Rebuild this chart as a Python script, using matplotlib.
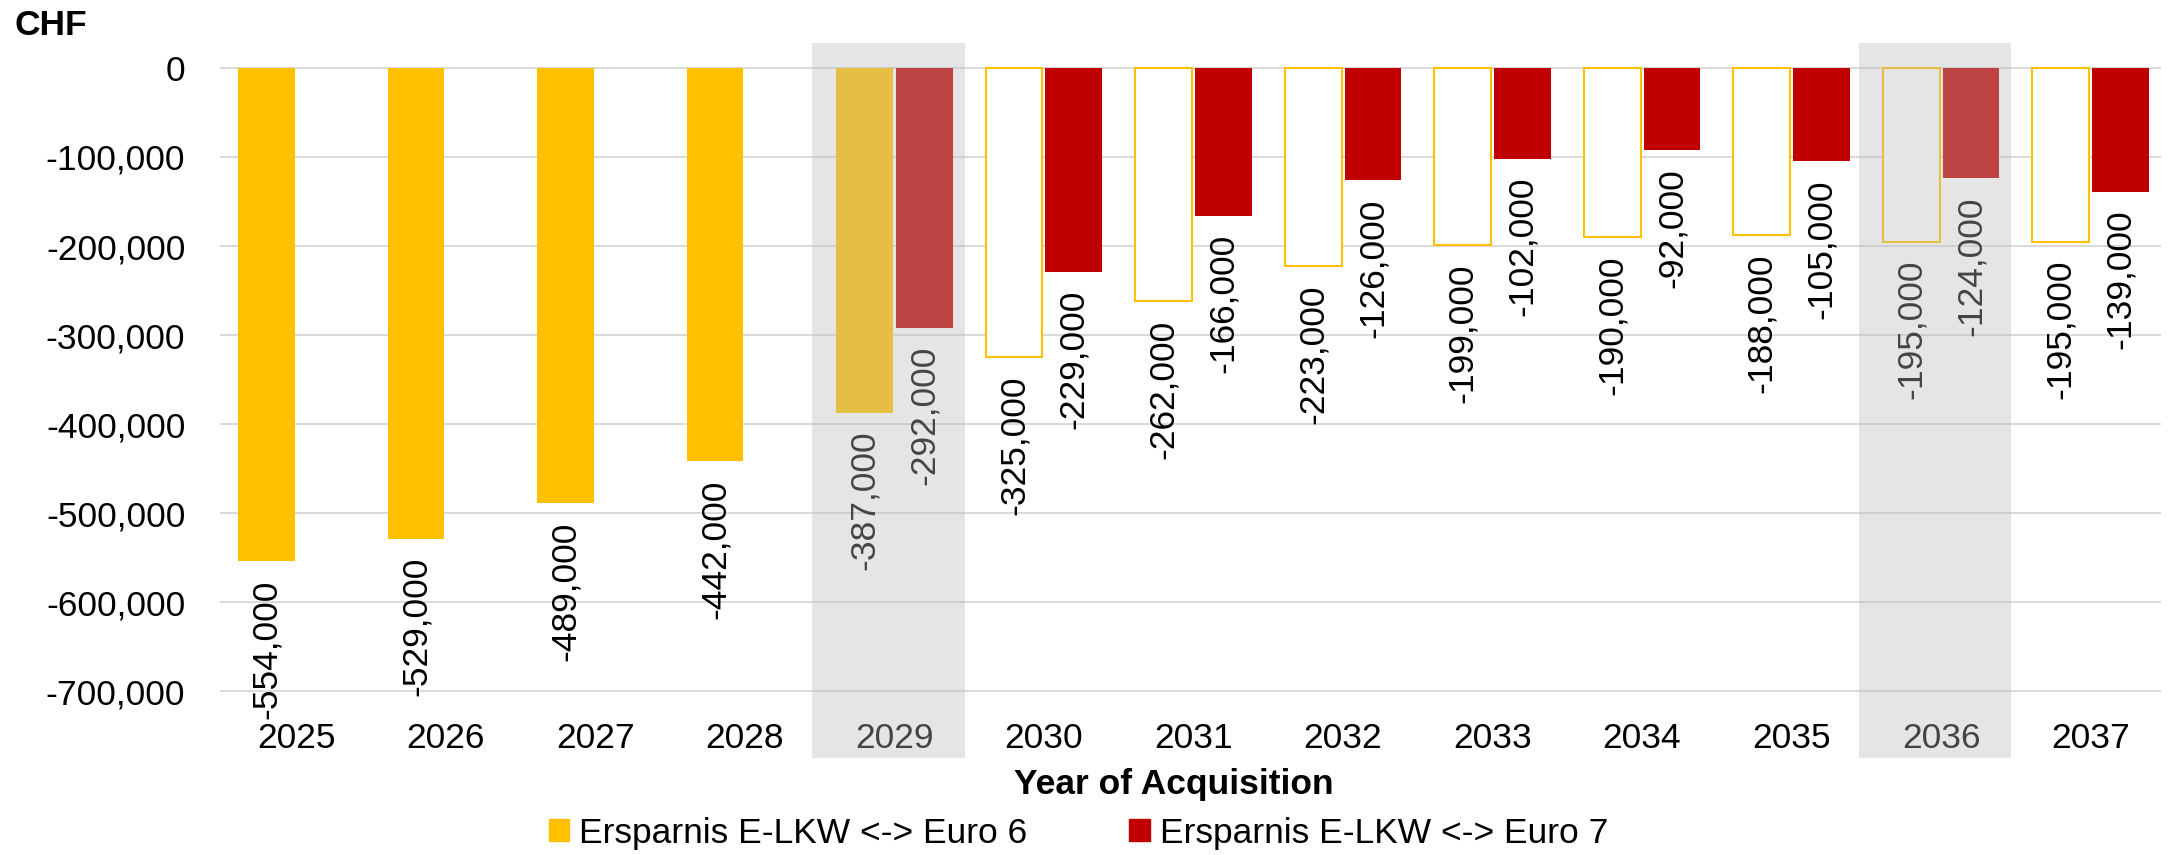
import matplotlib
matplotlib.use("Agg")
import matplotlib.pyplot as plt
from matplotlib.patches import Patch
from matplotlib.ticker import FuncFormatter

plt.rcParams['font.family'] = ['Liberation Sans', 'DejaVu Sans']

# Daten
years = [2025, 2026, 2027, 2028, 2029, 2030, 2031, 2032, 2033, 2034, 2035, 2036, 2037]
euro6 = [-554000, -529000, -489000, -442000, -387000, -325000, -262000,
         -223000, -199000, -190000, -188000, -195000, -195000]
euro7 = [None, None, None, None, -292000, -229000, -166000,
         -126000, -102000, -92000, -105000, -124000, -139000]
shaded_years = [2029, 2036]
first_hollow_year = 2030
y_ticks = [0, -100000, -200000, -300000, -400000, -500000, -600000, -700000]

yellow = '#FFC000'
red = '#C00000'
fs = 25.5

fig = plt.figure(figsize=(21.79, 8.55), dpi=100)
ax = fig.add_axes([0.101, 0.1135, 0.8907, 0.8362])

x = list(range(len(years)))
w = 0.38
off = 0.2

for i, (yr, v) in enumerate(zip(years, euro6)):
    if yr >= first_hollow_year:
        ax.bar(i - off, v, w, facecolor='white', edgecolor=yellow, linewidth=1.5, zorder=3)
    else:
        ax.bar(i - off, v, w, color=yellow, zorder=3)
    ax.annotate(f"{v:,.0f}", (i - off, v), xytext=(0, -13), textcoords='offset points',
                rotation=90, ha='center', va='top', fontsize=fs, color='black', zorder=4)

for i, v in enumerate(euro7):
    if v is None:
        continue
    ax.bar(i + off, v, w, color=red, zorder=3)
    ax.annotate(f"{v:,.0f}", (i + off, v), xytext=(0, -13), textcoords='offset points',
                rotation=90, ha='center', va='top', fontsize=fs, color='black', zorder=4)

# graue Markierung
for yr in shaded_years:
    i = years.index(yr)
    ax.axvspan(i - 0.55, i + 0.47, color=(187/255, 187/255, 187/255), alpha=0.37,
               linewidth=0, zorder=10)

ax.set_xlim(-0.51, 12.47)
ax.set_ylim(-775000, 28000)
ax.set_yticks(y_ticks)
ax.yaxis.set_major_formatter(FuncFormatter(lambda v, p: f"{v:,.0f}"))
ax.set_xticks(x)
ax.set_xticklabels([str(y) for y in years])
ax.set_axisbelow(True)
ax.grid(axis='y', color='#D9D9D9', linewidth=1.4)
ax.tick_params(axis='y', length=0, pad=25, labelsize=fs)
ax.tick_params(axis='x', length=0, pad=-26, labelsize=fs)
for s in ax.spines.values():
    s.set_visible(False)

fig.text(15/2179, 1 - 35/855, "CHF", fontsize=25.5, fontweight='bold', va='baseline')
fig.text(1174/2179, 1 - 794/855, "Year of Acquisition", fontsize=fs, fontweight='bold',
         ha='center', va='baseline')

handles = [Patch(color=yellow, label='Ersparnis E-LKW <-> Euro 6'),
           Patch(color=red, label='Ersparnis E-LKW <-> Euro 7')]
fig.legend(handles=handles, loc='center', bbox_to_anchor=(0.495, 1 - 833/855), ncol=2,
           frameon=False, fontsize=fs, handlelength=0.57, handleheight=0.57,
           handletextpad=0.28, columnspacing=2.88, borderpad=0, borderaxespad=0)

fig.savefig('out.png', dpi=100)
